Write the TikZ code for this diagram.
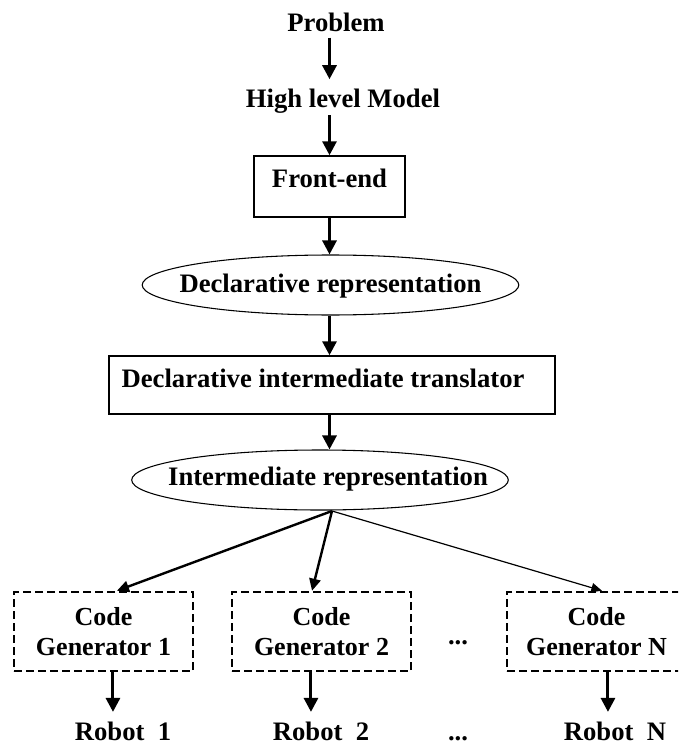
\documentclass[tikz,border=0pt]{standalone}
\usepackage{fontspec}
\setmainfont{Liberation Serif}
\usetikzlibrary{arrows.meta,shapes.geometric}
\begin{document}
\begin{tikzpicture}[x=0.75pt,y=-0.75pt,
  font=\fontsize{20}{22.5}\selectfont\bfseries,
  lbl/.style={inner sep=0pt, anchor=base},
  solidbox/.style={draw, line width=1.1pt, rectangle, inner sep=0pt},
  ovalbox/.style={draw, line width=0.8pt, ellipse, inner ysep=0pt, minimum width=282.5pt, minimum height=45pt},
  dashbox/.style={draw, line width=1.9pt, dash pattern=on 6pt off 3pt, rectangle, inner sep=0pt,
     minimum width=134.25pt, minimum height=59.25pt, align=center, font=\fontsize{19.5}{22.5}\selectfont\bfseries},
  arr/.style={line width=2.25pt, -{Triangle[length=10.5pt,width=10.5pt]}},
  fanarr/.style={line width=1.8pt, -{Triangle[length=9pt,width=8.5pt]}},
  thinarr/.style={line width=0.9pt, -{Triangle[length=8pt,width=7pt]}},
]
\fill[white] (0,0) rectangle (678,745);
\useasboundingbox (0,0) rectangle (678,745);
\clip (0,0) rectangle (678,745);

\node[lbl] (prob) at (336,32) {Problem};
\node[lbl] (hlm) at (343,108) {High level Model};
\node[solidbox, minimum width=113.25pt, minimum height=45.75pt, text height=13.5pt, text depth=11.25pt]
  (fe) at (329.5,186.5) {Front-end};
\node[ovalbox, inner xsep=-15pt, text height=13.5pt, text depth=3pt]
  (decl) at (330.5,285) {Declarative representation};
\node[solidbox, minimum width=334.5pt, minimum height=43.5pt, text height=13.5pt, text depth=10.5pt]
  (trans) at (332,385) {Declarative intermediate translator\hspace*{13.5pt}};
\node[ovalbox, inner xsep=-27pt, text height=13.5pt, text depth=6pt]
  (irep) at (320,480) {\hspace*{12pt}Intermediate representation};
\coordinate (fan) at (332,511);

\node[dashbox] (cg1) at (103.5,631.5) {Code\\Generator 1};
\node[dashbox] (cg2) at (321.5,631.5) {Code\\Generator 2};
\node[dashbox] (cgn) at (596.5,631.5) {Code\\Generator N};
\node[lbl] (dots1) at (458,644) {...};

\node[lbl] (rob1) at (123,740) {Robot~~1};
\node[lbl] (rob2) at (321,740) {Robot~~2};
\node[lbl] (dots2) at (458,740) {...};
\node[lbl] (robn) at (615,740) {Robot~~N};

\draw[arr, shorten <=3.75pt, shorten >=7.5pt] (prob.south -| fe.north) -- (hlm.north -| fe.north);
\draw[arr, shorten <=0.75pt] (hlm.south -| fe.north) -- (fe.north);
\draw[arr] (fe.south) -- (fe.south |- decl.north);
\draw[arr] (decl.south -| fe.south) -- (trans.north -| fe.south);
\draw[arr] (trans.south -| fe.south) -- (irep.north -| fe.south);

\draw[fanarr] (fan) -- ([xshift=10.1pt]cg1.north);
\draw[fanarr] (fan) -- ([xshift=-7.1pt]cg2.north);
\draw[thinarr] (fan) -- ([xshift=4.1pt]cgn.north);

\draw[arr, shorten >=7pt] ([xshift=7.1pt]cg1.south) -- ([xshift=7.1pt]cg1.south |- rob1.north);
\draw[arr, shorten >=7pt] ([xshift=-7.9pt]cg2.south) -- ([xshift=-7.9pt]cg2.south |- rob2.north);
\draw[arr, shorten >=7pt] ([xshift=8.6pt]cgn.south) -- ([xshift=8.6pt]cgn.south |- robn.north);
\end{tikzpicture}
\end{document}
